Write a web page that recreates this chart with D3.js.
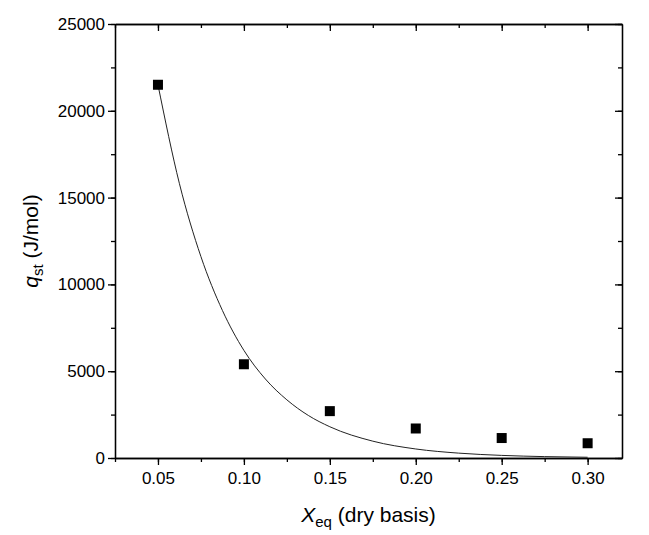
<!DOCTYPE html>
<html><head><meta charset="utf-8">
<script src="https://cdn.jsdelivr.net/npm/d3@7"></script>
<style>body{margin:0;background:#fff}text{font-family:Arial,"Liberation Sans",sans-serif}</style>
</head><body><svg id="c" width="649" height="535"></svg>
<script>
const xData=[0.05,0.10,0.15,0.20,0.25,0.30];
const yData=[21500,5400,2700,1700,1150,850];
const fitX=[0.05,0.0625,0.075,0.0875,0.10,0.1125,0.125,0.1375,0.15,0.175,0.20,0.225,0.25,0.275,0.30];
const fitY=[21500,15800,11600,8500,6200,4550,3350,2450,1800,970,520,280,150,80,43];
const xTicks=[0.05,0.10,0.15,0.20,0.25,0.30];
const yTicks=[0,5000,10000,15000,20000,25000];
const L=115,R=622,T=24,B=458;
const svg=d3.select("#c");
const x=d3.scaleLinear().domain([0.025,0.32]).range([L,R]);
const y=d3.scaleLinear().domain([0,25000]).range([B,T]);
const minX=d3.range(0.025,0.32,0.025).map(v=>+v.toFixed(3));
const minY=d3.range(0,25001,2500);
function ax(g){g.selectAll("path").attr("stroke-width",1.3);g.selectAll("line").attr("stroke-width",1.3);}
svg.append("g").attr("transform",`translate(0,${B})`).call(d3.axisBottom(x).tickValues(minX).tickFormat("").tickSize(4).tickSizeOuter(0)).call(ax);
svg.append("g").attr("transform",`translate(0,${B})`).call(d3.axisBottom(x).tickValues(xTicks).tickFormat(d3.format(".2f")).tickSize(7).tickSizeOuter(0)).call(ax)
  .selectAll("text").attr("font-size",17).attr("dy","0.95em").attr("fill","#000");
svg.append("g").attr("transform",`translate(0,${T})`).call(d3.axisBottom(x).tickValues(minX).tickFormat("").tickSize(4).tickSizeOuter(0)).call(ax);
svg.append("g").attr("transform",`translate(0,${T})`).call(d3.axisBottom(x).tickValues(xTicks).tickFormat("").tickSize(7).tickSizeOuter(0)).call(ax);
svg.append("g").attr("transform",`translate(${L},0)`).call(d3.axisLeft(y).tickValues(minY).tickFormat("").tickSize(4).tickSizeOuter(0)).call(ax);
svg.append("g").attr("transform",`translate(${L},0)`).call(d3.axisLeft(y).tickValues(yTicks).tickFormat(d=>d).tickSize(7).tickSizeOuter(0)).call(ax)
  .selectAll("text").attr("font-size",17).attr("fill","#000");
svg.append("g").attr("transform",`translate(${R},0)`).call(d3.axisRight(y).tickValues(minY).tickSize(-4).tickFormat("").tickSizeOuter(0)).call(ax);
svg.append("g").attr("transform",`translate(${R},0)`).call(d3.axisRight(y).tickValues(yTicks).tickSize(-7).tickFormat("").tickSizeOuter(0)).call(ax);
svg.append("path").datum(fitX.map((v,i)=>[v,fitY[i]])).attr("fill","none").attr("stroke","#222").attr("stroke-width",1)
  .attr("d",d3.line().x(d=>x(d[0])).y(d=>y(d[1])).curve(d3.curveMonotoneX));
svg.selectAll("rect.p").data(xData).join("rect").attr("class","p")
  .attr("x",d=>x(d)-5).attr("y",(d,i)=>y(yData[i])-5).attr("width",10).attr("height",10).attr("fill","#000");
const xl=svg.append("text").attr("x",(L+R)/2).attr("y",522).attr("text-anchor","middle").attr("font-size",21);
xl.append("tspan").attr("font-style","italic").text("X");
xl.append("tspan").attr("font-size",15).attr("dy",5).text("eq");
xl.append("tspan").attr("dy",-5).text(" (dry basis)");
const yl=svg.append("text").attr("transform",`translate(38,${(T+B)/2}) rotate(-90)`).attr("text-anchor","middle").attr("font-size",21);
yl.append("tspan").attr("font-style","italic").text("q");
yl.append("tspan").attr("font-size",15).attr("dy",5).text("st");
yl.append("tspan").attr("dy",-5).text(" (J/mol)");
</script></body></html>
